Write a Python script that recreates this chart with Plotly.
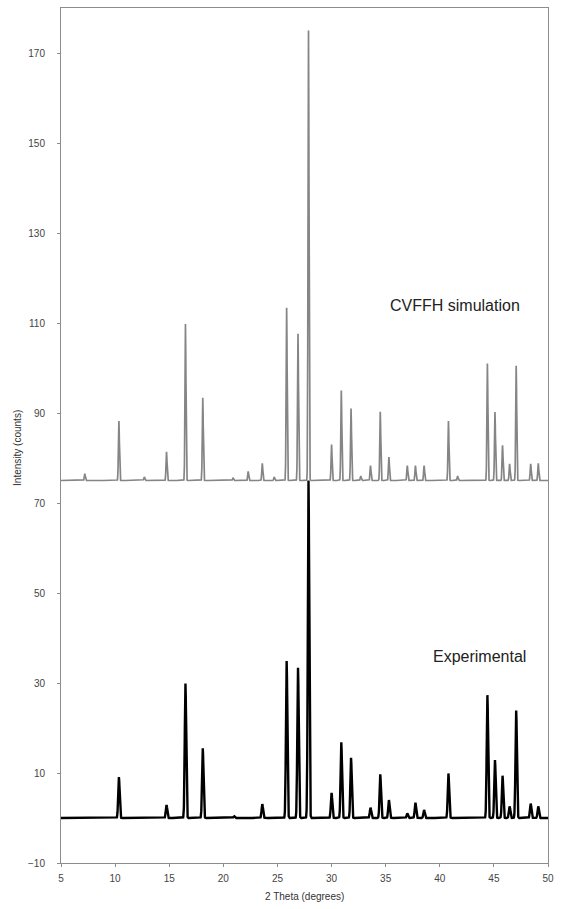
import numpy as np
import plotly.graph_objects as go

# Peak table for the CVFFH simulated powder pattern (2θ in degrees, intensity in counts)
sim_pos = [7.2, 10.35, 12.7, 14.75, 16.5, 18.1, 20.9, 22.3, 23.6, 24.7, 25.85, 26.9, 27.87,
           30.0, 30.9, 31.8, 32.7, 33.6, 34.5, 35.3, 37.0, 37.75, 38.55, 40.8, 41.65,
           44.4, 45.1, 45.8, 46.45, 47.06, 48.4, 49.1]
sim_height = [1.5, 13.2, 0.8, 6.4, 34.8, 18.4, 0.6, 2.0, 3.8, 0.8, 38.4, 32.6, 100.0,
              8.0, 20.0, 16.0, 1.0, 3.3, 15.3, 5.2, 3.3, 3.3, 3.3, 13.2, 1.0,
              26.0, 15.2, 7.8, 3.7, 25.5, 3.7, 3.8]
sim_offset = 75.0

# Peak table for the experimental pattern
exp_pos = [10.35, 14.75, 16.5, 18.1, 21.0, 23.6, 25.85, 26.9, 27.87, 30.0, 30.9, 31.8,
           33.6, 34.5, 35.3, 37.0, 37.75, 38.55, 40.8, 44.4, 45.1, 45.8, 46.45, 47.06,
           48.4, 49.1]
exp_height = [9.1, 2.9, 29.9, 15.5, 0.4, 3.1, 34.9, 33.4, 75.0, 5.6, 16.8, 13.4,
              2.3, 9.7, 4.0, 1.0, 3.4, 1.8, 9.9, 27.3, 12.9, 9.4, 2.6, 23.9,
              3.2, 2.6]

x_ticks = [5, 10, 15, 20, 25, 30, 35, 40, 45, 50]
y_ticks = [-10, 10, 30, 50, 70, 90, 110, 130, 150, 170]

two_theta = np.linspace(5, 50, 4501)


def profile(positions, heights, sigma):
    y = np.zeros_like(two_theta)
    for p, h in zip(positions, heights):
        y += h * np.exp(-0.5 * ((two_theta - p) / sigma) ** 2)
    return y


exp_y = profile(exp_pos, exp_height, 0.065)
sim_y = profile(sim_pos, sim_height, 0.045) + sim_offset

fig = go.Figure()
fig.add_trace(go.Scatter(x=two_theta, y=exp_y, mode="lines",
                         line=dict(color="#000000", width=2.4), name="Experimental"))
fig.add_trace(go.Scatter(x=two_theta, y=sim_y, mode="lines",
                         line=dict(color="#858585", width=1.7), name="CVFFH simulation"))

font_main = "Liberation Sans, Arial, sans-serif"

fig.update_layout(
    width=561, height=909,
    margin=dict(l=61, r=8, t=7, b=46),
    paper_bgcolor="white", plot_bgcolor="white",
    showlegend=False,
    font=dict(family=font_main, color="#333333", size=10),
    xaxis=dict(range=[5, 50], tickvals=x_ticks, showgrid=False, zeroline=False,
               showline=True, linecolor="#8c8c8c", linewidth=1, mirror=True,
               ticks="outside", ticklen=3, tickcolor="#8c8c8c",
               ticklabelstandoff=3,
               tickfont=dict(size=10, color="#444444")),
    yaxis=dict(range=[-10, 180], tickvals=y_ticks, showgrid=False, zeroline=False,
               showline=True, linecolor="#8c8c8c", linewidth=1, mirror=True,
               ticks="outside", ticklen=3, tickcolor="#8c8c8c",
               ticklabelstandoff=10,
               tickfont=dict(size=10, color="#444444")),
    annotations=[
        dict(x=41.4, y=113.8, xref="x", yref="y", text="CVFFH simulation",
             showarrow=False, font=dict(family=font_main, size=16, color="#222222")),
        dict(x=43.7, y=35.9, xref="x", yref="y", text="Experimental",
             showarrow=False, font=dict(family=font_main, size=16, color="#222222")),
        dict(x=0.5, y=-0.0386, xref="paper", yref="paper", text="2 Theta (degrees)",
             xanchor="center", yanchor="middle",
             showarrow=False, font=dict(family=font_main, size=10, color="#333333")),
        dict(x=-0.0894, y=0.486, xref="paper", yref="paper", text="Intensity (counts)",
             xanchor="center", yanchor="middle",
             textangle=-90, showarrow=False,
             font=dict(family=font_main, size=10, color="#333333")),
    ],
)

fig.write_html("out.html")
